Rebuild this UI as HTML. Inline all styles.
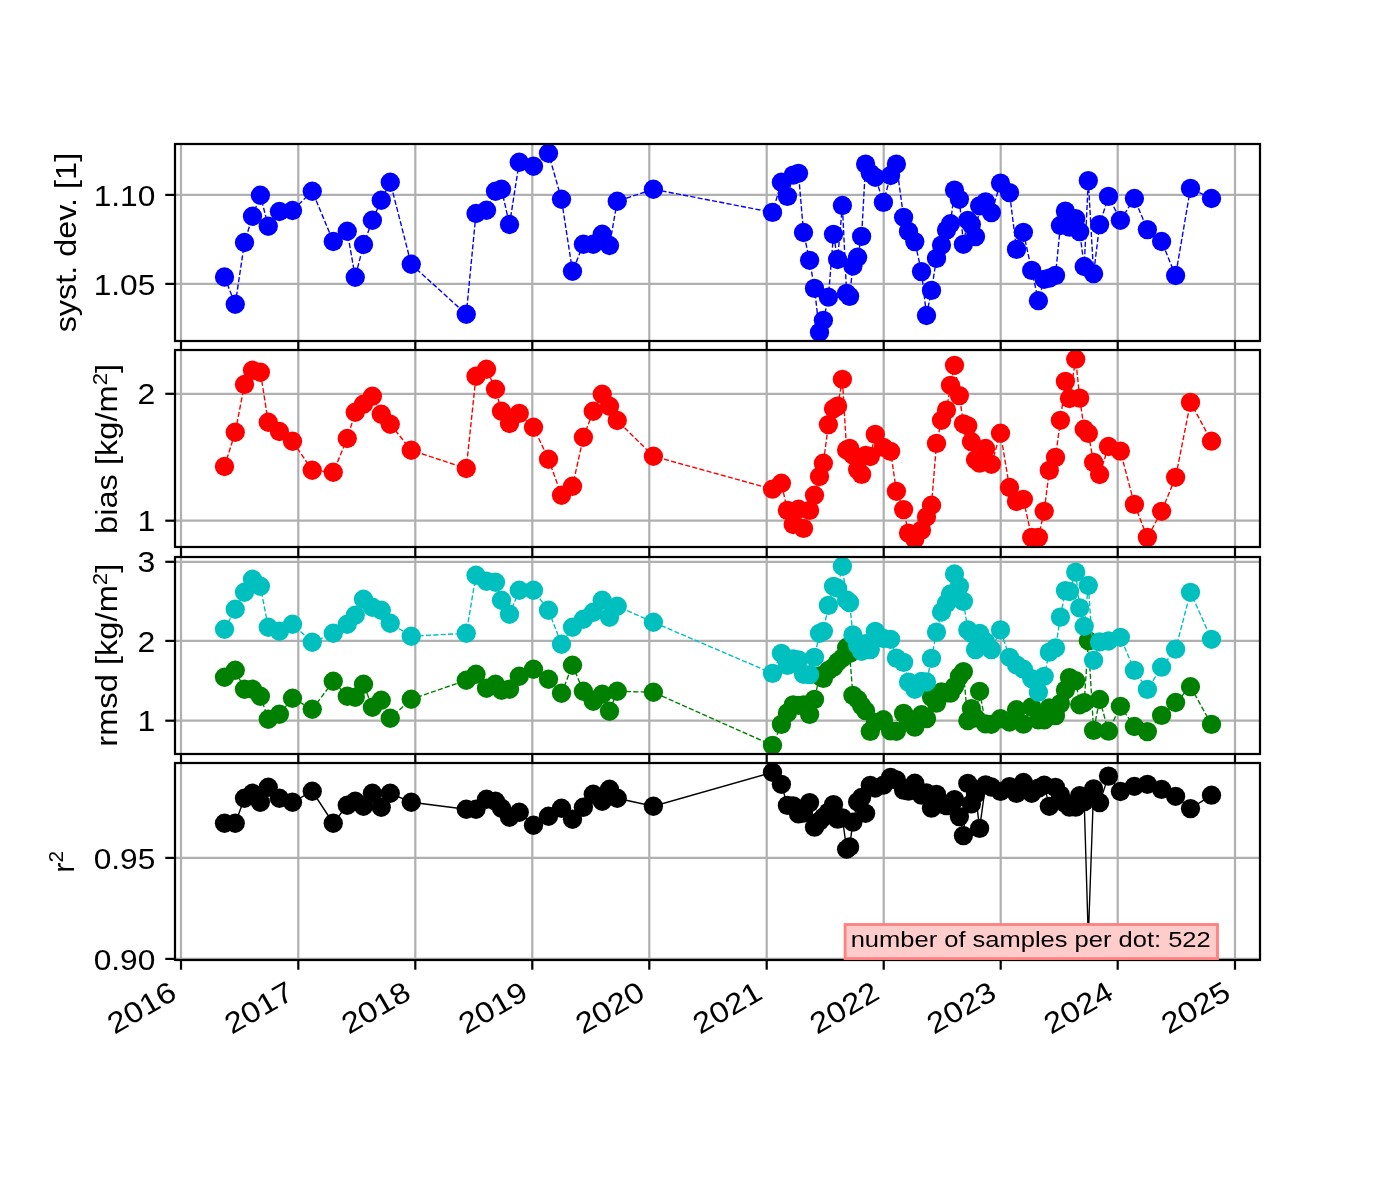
<!DOCTYPE html>
<html><head><meta charset="utf-8"><title>chart</title>
<style>html,body{margin:0;padding:0;background:#fff}svg{display:block;will-change:transform}text{font-family:"Liberation Sans",sans-serif;fill:#000}</style>
</head><body>
<svg width="1400" height="1200" viewBox="0 0 1400 1200">
<rect width="1400" height="1200" fill="#fff"/>
<defs>
<clipPath id="c0"><rect x="175" y="144" width="1085" height="197"/></clipPath>
<clipPath id="c1"><rect x="175" y="350" width="1085" height="197"/></clipPath>
<clipPath id="c2"><rect x="175" y="557" width="1085" height="197"/></clipPath>
<clipPath id="c3"><rect x="175" y="763" width="1085" height="197"/></clipPath>
</defs>
<g stroke="#b0b0b0" stroke-width="2.22" clip-path="url(#c0)"><line x1="181" y1="144" x2="181" y2="341"/><line x1="298.3" y1="144" x2="298.3" y2="341"/><line x1="415.3" y1="144" x2="415.3" y2="341"/><line x1="532.3" y1="144" x2="532.3" y2="341"/><line x1="649.3" y1="144" x2="649.3" y2="341"/><line x1="766.7" y1="144" x2="766.7" y2="341"/><line x1="883.7" y1="144" x2="883.7" y2="341"/><line x1="1000.7" y1="144" x2="1000.7" y2="341"/><line x1="1117.7" y1="144" x2="1117.7" y2="341"/><line x1="1235" y1="144" x2="1235" y2="341"/><line x1="175" y1="194.9" x2="1260" y2="194.9"/><line x1="175" y1="283.9" x2="1260" y2="283.9"/></g>
<g clip-path="url(#c0)">
<polyline points="224.5,277 235.25,304.25 244.5,242.5 252.5,216.25 260.4,195.25 268.25,226.25 279.4,211.5 292.5,210.5 312.25,191.25 333.25,241.5 347.25,231.25 355.25,277.25 363.5,244.5 372.4,220.25 381.25,200.25 390.25,182.25 411.25,264.25 466.25,314.25 476,213.5 486.5,210.25 495.5,191.25 501.5,189.25 509.5,224.5 519.25,162.25 533.5,166.25 548.5,153.25 561.5,199.25 572.5,271.25 583.4,244.25 593.25,244.25 602.25,234.25 609.5,245.5 617.25,201.25 653.4,189.25 772.5,212.4 781.4,182.2 787.4,196.4 793.2,175.1 798.5,173.3 803.5,232.5 809.6,260.3 814.5,288.4 819.5,332.3 823.4,320.3 828.4,297.2 833.5,234.3 837.6,259.5 842.4,205.5 846.6,293.3 849.6,296.4 852.9,266 857.6,257.2 861.6,236.4 865.6,164.1 870.3,173.3 875.3,177.3 883.4,202.4 890.6,175.5 896.4,164.1 903.6,217.3 908.5,231.4 914.8,241.6 921.5,271.6 926.5,315.5 931.5,290.4 936.5,258.4 941.5,245.1 946.5,230.1 950.5,223.7 954.5,190.1 959.4,199.3 963.4,244.3 967.8,220.3 971.4,224.6 975.5,236.6 979.6,205.8 985.6,201.9 991.4,212.6 1000.5,183.1 1009.5,192.6 1016.5,249.4 1023.4,232.3 1031.7,270.4 1038.4,300.7 1044.2,279.3 1049.3,278.1 1055.5,275.4 1060.4,225.5 1065.4,211.1 1069.5,227.2 1075.7,218.6 1079.7,231.6 1084.2,266.5 1088.3,180.6 1093.6,273.7 1099.6,224.6 1108.5,196.4 1120.4,220.3 1134.4,198.5 1147.4,229.6 1161.6,241.5 1175.6,275.5 1190.5,188.4 1211.5,198.5" fill="none" stroke="#0000ff" stroke-width="1.39" stroke-dasharray="5.14 2.22"/><g fill="#0000ff"><circle cx="224.5" cy="277" r="9.65"/><circle cx="235.25" cy="304.25" r="9.65"/><circle cx="244.5" cy="242.5" r="9.65"/><circle cx="252.5" cy="216.25" r="9.65"/><circle cx="260.4" cy="195.25" r="9.65"/><circle cx="268.25" cy="226.25" r="9.65"/><circle cx="279.4" cy="211.5" r="9.65"/><circle cx="292.5" cy="210.5" r="9.65"/><circle cx="312.25" cy="191.25" r="9.65"/><circle cx="333.25" cy="241.5" r="9.65"/><circle cx="347.25" cy="231.25" r="9.65"/><circle cx="355.25" cy="277.25" r="9.65"/><circle cx="363.5" cy="244.5" r="9.65"/><circle cx="372.4" cy="220.25" r="9.65"/><circle cx="381.25" cy="200.25" r="9.65"/><circle cx="390.25" cy="182.25" r="9.65"/><circle cx="411.25" cy="264.25" r="9.65"/><circle cx="466.25" cy="314.25" r="9.65"/><circle cx="476" cy="213.5" r="9.65"/><circle cx="486.5" cy="210.25" r="9.65"/><circle cx="495.5" cy="191.25" r="9.65"/><circle cx="501.5" cy="189.25" r="9.65"/><circle cx="509.5" cy="224.5" r="9.65"/><circle cx="519.25" cy="162.25" r="9.65"/><circle cx="533.5" cy="166.25" r="9.65"/><circle cx="548.5" cy="153.25" r="9.65"/><circle cx="561.5" cy="199.25" r="9.65"/><circle cx="572.5" cy="271.25" r="9.65"/><circle cx="583.4" cy="244.25" r="9.65"/><circle cx="593.25" cy="244.25" r="9.65"/><circle cx="602.25" cy="234.25" r="9.65"/><circle cx="609.5" cy="245.5" r="9.65"/><circle cx="617.25" cy="201.25" r="9.65"/><circle cx="653.4" cy="189.25" r="9.65"/><circle cx="772.5" cy="212.4" r="9.65"/><circle cx="781.4" cy="182.2" r="9.65"/><circle cx="787.4" cy="196.4" r="9.65"/><circle cx="793.2" cy="175.1" r="9.65"/><circle cx="798.5" cy="173.3" r="9.65"/><circle cx="803.5" cy="232.5" r="9.65"/><circle cx="809.6" cy="260.3" r="9.65"/><circle cx="814.5" cy="288.4" r="9.65"/><circle cx="819.5" cy="332.3" r="9.65"/><circle cx="823.4" cy="320.3" r="9.65"/><circle cx="828.4" cy="297.2" r="9.65"/><circle cx="833.5" cy="234.3" r="9.65"/><circle cx="837.6" cy="259.5" r="9.65"/><circle cx="842.4" cy="205.5" r="9.65"/><circle cx="846.6" cy="293.3" r="9.65"/><circle cx="849.6" cy="296.4" r="9.65"/><circle cx="852.9" cy="266" r="9.65"/><circle cx="857.6" cy="257.2" r="9.65"/><circle cx="861.6" cy="236.4" r="9.65"/><circle cx="865.6" cy="164.1" r="9.65"/><circle cx="870.3" cy="173.3" r="9.65"/><circle cx="875.3" cy="177.3" r="9.65"/><circle cx="883.4" cy="202.4" r="9.65"/><circle cx="890.6" cy="175.5" r="9.65"/><circle cx="896.4" cy="164.1" r="9.65"/><circle cx="903.6" cy="217.3" r="9.65"/><circle cx="908.5" cy="231.4" r="9.65"/><circle cx="914.8" cy="241.6" r="9.65"/><circle cx="921.5" cy="271.6" r="9.65"/><circle cx="926.5" cy="315.5" r="9.65"/><circle cx="931.5" cy="290.4" r="9.65"/><circle cx="936.5" cy="258.4" r="9.65"/><circle cx="941.5" cy="245.1" r="9.65"/><circle cx="946.5" cy="230.1" r="9.65"/><circle cx="950.5" cy="223.7" r="9.65"/><circle cx="954.5" cy="190.1" r="9.65"/><circle cx="959.4" cy="199.3" r="9.65"/><circle cx="963.4" cy="244.3" r="9.65"/><circle cx="967.8" cy="220.3" r="9.65"/><circle cx="971.4" cy="224.6" r="9.65"/><circle cx="975.5" cy="236.6" r="9.65"/><circle cx="979.6" cy="205.8" r="9.65"/><circle cx="985.6" cy="201.9" r="9.65"/><circle cx="991.4" cy="212.6" r="9.65"/><circle cx="1000.5" cy="183.1" r="9.65"/><circle cx="1009.5" cy="192.6" r="9.65"/><circle cx="1016.5" cy="249.4" r="9.65"/><circle cx="1023.4" cy="232.3" r="9.65"/><circle cx="1031.7" cy="270.4" r="9.65"/><circle cx="1038.4" cy="300.7" r="9.65"/><circle cx="1044.2" cy="279.3" r="9.65"/><circle cx="1049.3" cy="278.1" r="9.65"/><circle cx="1055.5" cy="275.4" r="9.65"/><circle cx="1060.4" cy="225.5" r="9.65"/><circle cx="1065.4" cy="211.1" r="9.65"/><circle cx="1069.5" cy="227.2" r="9.65"/><circle cx="1075.7" cy="218.6" r="9.65"/><circle cx="1079.7" cy="231.6" r="9.65"/><circle cx="1084.2" cy="266.5" r="9.65"/><circle cx="1088.3" cy="180.6" r="9.65"/><circle cx="1093.6" cy="273.7" r="9.65"/><circle cx="1099.6" cy="224.6" r="9.65"/><circle cx="1108.5" cy="196.4" r="9.65"/><circle cx="1120.4" cy="220.3" r="9.65"/><circle cx="1134.4" cy="198.5" r="9.65"/><circle cx="1147.4" cy="229.6" r="9.65"/><circle cx="1161.6" cy="241.5" r="9.65"/><circle cx="1175.6" cy="275.5" r="9.65"/><circle cx="1190.5" cy="188.4" r="9.65"/><circle cx="1211.5" cy="198.5" r="9.65"/></g>
</g>
<g stroke="#000" stroke-width="2.22"><line x1="181" y1="341" x2="181" y2="350.7"/><line x1="298.3" y1="341" x2="298.3" y2="350.7"/><line x1="415.3" y1="341" x2="415.3" y2="350.7"/><line x1="532.3" y1="341" x2="532.3" y2="350.7"/><line x1="649.3" y1="341" x2="649.3" y2="350.7"/><line x1="766.7" y1="341" x2="766.7" y2="350.7"/><line x1="883.7" y1="341" x2="883.7" y2="350.7"/><line x1="1000.7" y1="341" x2="1000.7" y2="350.7"/><line x1="1117.7" y1="341" x2="1117.7" y2="350.7"/><line x1="1235" y1="341" x2="1235" y2="350.7"/><line x1="165.3" y1="194.9" x2="175" y2="194.9"/><line x1="165.3" y1="283.9" x2="175" y2="283.9"/></g>
<rect x="175" y="144" width="1085" height="197" fill="none" stroke="#000" stroke-width="2.22"/>
<g stroke="#b0b0b0" stroke-width="2.22" clip-path="url(#c1)"><line x1="181" y1="350" x2="181" y2="547"/><line x1="298.3" y1="350" x2="298.3" y2="547"/><line x1="415.3" y1="350" x2="415.3" y2="547"/><line x1="532.3" y1="350" x2="532.3" y2="547"/><line x1="649.3" y1="350" x2="649.3" y2="547"/><line x1="766.7" y1="350" x2="766.7" y2="547"/><line x1="883.7" y1="350" x2="883.7" y2="547"/><line x1="1000.7" y1="350" x2="1000.7" y2="547"/><line x1="1117.7" y1="350" x2="1117.7" y2="547"/><line x1="1235" y1="350" x2="1235" y2="547"/><line x1="175" y1="393.8" x2="1260" y2="393.8"/><line x1="175" y1="520.7" x2="1260" y2="520.7"/></g>
<g clip-path="url(#c1)">
<polyline points="224.5,466.5 235.25,432.25 244.5,384.5 252.5,370.25 260.4,372.25 268.25,422.25 279.4,431.5 292.5,441.25 312.25,470.25 333.25,472.25 347.25,438.5 355.25,412.25 363.5,404.25 372.4,396.25 381.25,414.25 390.25,424.25 411.25,450.25 466.25,468.5 476,376.25 486.5,369.25 495.5,389.25 501.5,411.25 509.5,423.5 519.25,413.4 533.5,427.25 548.5,459.25 561.5,495.25 572.5,486.25 583.4,437.25 593.25,411.25 602.25,394.25 609.5,406.25 617.25,420.5 653.4,456.25 772.5,489.2 781.4,483.2 787.4,510.4 793.2,524.5 798.5,509.2 803.5,528.4 809.6,510.4 814.5,495.2 819.5,476.5 823.4,463.2 828.4,424.6 833.5,408.8 837.6,406.1 842.4,379.3 846.6,450 849.6,448.4 852.9,454.9 857.6,469.6 861.6,474.4 865.6,455.5 870.3,456.5 875.3,434.4 883.4,447.3 890.6,451.4 896.4,491.3 903.6,509.6 908.5,533.1 914.8,539.1 921.5,530.1 926.5,516.9 931.5,505.2 936.5,443.4 941.5,420.3 946.5,410.1 950.5,385.3 954.5,365.3 959.4,395.6 963.4,423.8 967.8,425.8 971.4,441.7 975.5,459.7 979.6,463.1 985.6,448.5 991.4,464.3 1000.5,433.2 1009.5,487.5 1016.5,501.5 1023.4,499.3 1031.7,537.4 1038.4,537.4 1044.2,511.3 1049.3,470.4 1055.5,457.4 1060.4,420.3 1065.4,381.4 1069.5,398.5 1075.7,359.2 1079.7,398.1 1084.2,429.2 1088.3,433.4 1093.6,462.4 1099.6,474.5 1108.5,446.5 1120.4,451.1 1134.4,504.4 1147.4,537.4 1161.6,511.3 1175.6,477.3 1190.5,402.4 1211.5,441.2" fill="none" stroke="#ff0000" stroke-width="1.39" stroke-dasharray="5.14 2.22"/><g fill="#ff0000"><circle cx="224.5" cy="466.5" r="9.65"/><circle cx="235.25" cy="432.25" r="9.65"/><circle cx="244.5" cy="384.5" r="9.65"/><circle cx="252.5" cy="370.25" r="9.65"/><circle cx="260.4" cy="372.25" r="9.65"/><circle cx="268.25" cy="422.25" r="9.65"/><circle cx="279.4" cy="431.5" r="9.65"/><circle cx="292.5" cy="441.25" r="9.65"/><circle cx="312.25" cy="470.25" r="9.65"/><circle cx="333.25" cy="472.25" r="9.65"/><circle cx="347.25" cy="438.5" r="9.65"/><circle cx="355.25" cy="412.25" r="9.65"/><circle cx="363.5" cy="404.25" r="9.65"/><circle cx="372.4" cy="396.25" r="9.65"/><circle cx="381.25" cy="414.25" r="9.65"/><circle cx="390.25" cy="424.25" r="9.65"/><circle cx="411.25" cy="450.25" r="9.65"/><circle cx="466.25" cy="468.5" r="9.65"/><circle cx="476" cy="376.25" r="9.65"/><circle cx="486.5" cy="369.25" r="9.65"/><circle cx="495.5" cy="389.25" r="9.65"/><circle cx="501.5" cy="411.25" r="9.65"/><circle cx="509.5" cy="423.5" r="9.65"/><circle cx="519.25" cy="413.4" r="9.65"/><circle cx="533.5" cy="427.25" r="9.65"/><circle cx="548.5" cy="459.25" r="9.65"/><circle cx="561.5" cy="495.25" r="9.65"/><circle cx="572.5" cy="486.25" r="9.65"/><circle cx="583.4" cy="437.25" r="9.65"/><circle cx="593.25" cy="411.25" r="9.65"/><circle cx="602.25" cy="394.25" r="9.65"/><circle cx="609.5" cy="406.25" r="9.65"/><circle cx="617.25" cy="420.5" r="9.65"/><circle cx="653.4" cy="456.25" r="9.65"/><circle cx="772.5" cy="489.2" r="9.65"/><circle cx="781.4" cy="483.2" r="9.65"/><circle cx="787.4" cy="510.4" r="9.65"/><circle cx="793.2" cy="524.5" r="9.65"/><circle cx="798.5" cy="509.2" r="9.65"/><circle cx="803.5" cy="528.4" r="9.65"/><circle cx="809.6" cy="510.4" r="9.65"/><circle cx="814.5" cy="495.2" r="9.65"/><circle cx="819.5" cy="476.5" r="9.65"/><circle cx="823.4" cy="463.2" r="9.65"/><circle cx="828.4" cy="424.6" r="9.65"/><circle cx="833.5" cy="408.8" r="9.65"/><circle cx="837.6" cy="406.1" r="9.65"/><circle cx="842.4" cy="379.3" r="9.65"/><circle cx="846.6" cy="450" r="9.65"/><circle cx="849.6" cy="448.4" r="9.65"/><circle cx="852.9" cy="454.9" r="9.65"/><circle cx="857.6" cy="469.6" r="9.65"/><circle cx="861.6" cy="474.4" r="9.65"/><circle cx="865.6" cy="455.5" r="9.65"/><circle cx="870.3" cy="456.5" r="9.65"/><circle cx="875.3" cy="434.4" r="9.65"/><circle cx="883.4" cy="447.3" r="9.65"/><circle cx="890.6" cy="451.4" r="9.65"/><circle cx="896.4" cy="491.3" r="9.65"/><circle cx="903.6" cy="509.6" r="9.65"/><circle cx="908.5" cy="533.1" r="9.65"/><circle cx="914.8" cy="539.1" r="9.65"/><circle cx="921.5" cy="530.1" r="9.65"/><circle cx="926.5" cy="516.9" r="9.65"/><circle cx="931.5" cy="505.2" r="9.65"/><circle cx="936.5" cy="443.4" r="9.65"/><circle cx="941.5" cy="420.3" r="9.65"/><circle cx="946.5" cy="410.1" r="9.65"/><circle cx="950.5" cy="385.3" r="9.65"/><circle cx="954.5" cy="365.3" r="9.65"/><circle cx="959.4" cy="395.6" r="9.65"/><circle cx="963.4" cy="423.8" r="9.65"/><circle cx="967.8" cy="425.8" r="9.65"/><circle cx="971.4" cy="441.7" r="9.65"/><circle cx="975.5" cy="459.7" r="9.65"/><circle cx="979.6" cy="463.1" r="9.65"/><circle cx="985.6" cy="448.5" r="9.65"/><circle cx="991.4" cy="464.3" r="9.65"/><circle cx="1000.5" cy="433.2" r="9.65"/><circle cx="1009.5" cy="487.5" r="9.65"/><circle cx="1016.5" cy="501.5" r="9.65"/><circle cx="1023.4" cy="499.3" r="9.65"/><circle cx="1031.7" cy="537.4" r="9.65"/><circle cx="1038.4" cy="537.4" r="9.65"/><circle cx="1044.2" cy="511.3" r="9.65"/><circle cx="1049.3" cy="470.4" r="9.65"/><circle cx="1055.5" cy="457.4" r="9.65"/><circle cx="1060.4" cy="420.3" r="9.65"/><circle cx="1065.4" cy="381.4" r="9.65"/><circle cx="1069.5" cy="398.5" r="9.65"/><circle cx="1075.7" cy="359.2" r="9.65"/><circle cx="1079.7" cy="398.1" r="9.65"/><circle cx="1084.2" cy="429.2" r="9.65"/><circle cx="1088.3" cy="433.4" r="9.65"/><circle cx="1093.6" cy="462.4" r="9.65"/><circle cx="1099.6" cy="474.5" r="9.65"/><circle cx="1108.5" cy="446.5" r="9.65"/><circle cx="1120.4" cy="451.1" r="9.65"/><circle cx="1134.4" cy="504.4" r="9.65"/><circle cx="1147.4" cy="537.4" r="9.65"/><circle cx="1161.6" cy="511.3" r="9.65"/><circle cx="1175.6" cy="477.3" r="9.65"/><circle cx="1190.5" cy="402.4" r="9.65"/><circle cx="1211.5" cy="441.2" r="9.65"/></g>
</g>
<g stroke="#000" stroke-width="2.22"><line x1="181" y1="547" x2="181" y2="556.7"/><line x1="298.3" y1="547" x2="298.3" y2="556.7"/><line x1="415.3" y1="547" x2="415.3" y2="556.7"/><line x1="532.3" y1="547" x2="532.3" y2="556.7"/><line x1="649.3" y1="547" x2="649.3" y2="556.7"/><line x1="766.7" y1="547" x2="766.7" y2="556.7"/><line x1="883.7" y1="547" x2="883.7" y2="556.7"/><line x1="1000.7" y1="547" x2="1000.7" y2="556.7"/><line x1="1117.7" y1="547" x2="1117.7" y2="556.7"/><line x1="1235" y1="547" x2="1235" y2="556.7"/><line x1="165.3" y1="393.8" x2="175" y2="393.8"/><line x1="165.3" y1="520.7" x2="175" y2="520.7"/></g>
<rect x="175" y="350" width="1085" height="197" fill="none" stroke="#000" stroke-width="2.22"/>
<g stroke="#b0b0b0" stroke-width="2.22" clip-path="url(#c2)"><line x1="181" y1="557" x2="181" y2="754"/><line x1="298.3" y1="557" x2="298.3" y2="754"/><line x1="415.3" y1="557" x2="415.3" y2="754"/><line x1="532.3" y1="557" x2="532.3" y2="754"/><line x1="649.3" y1="557" x2="649.3" y2="754"/><line x1="766.7" y1="557" x2="766.7" y2="754"/><line x1="883.7" y1="557" x2="883.7" y2="754"/><line x1="1000.7" y1="557" x2="1000.7" y2="754"/><line x1="1117.7" y1="557" x2="1117.7" y2="754"/><line x1="1235" y1="557" x2="1235" y2="754"/><line x1="175" y1="561.8" x2="1260" y2="561.8"/><line x1="175" y1="640.9" x2="1260" y2="640.9"/><line x1="175" y1="720.7" x2="1260" y2="720.7"/></g>
<g clip-path="url(#c2)">
<polyline points="224.5,677.25 235.25,670.25 244.5,689.25 252.5,689.25 260.4,696.25 268.25,719.25 279.4,714.25 292.5,698.25 312.25,709.25 333.25,681.25 347.25,696.25 355.25,697.25 363.5,684.25 372.4,707.25 381.25,700.25 390.25,718.25 411.25,699.25 466.25,680.25 476,674.25 486.5,688.25 495.5,684.25 501.5,690.25 509.5,689.25 519.25,676.25 533.5,669.25 548.5,679.25 561.5,693.25 572.5,665.25 583.4,691.25 593.25,701.25 602.25,694.25 609.5,711.25 617.25,691.25 653.4,692.25 772.5,745.3 781.4,724.4 787.4,713 793.2,704.8 798.5,705.3 803.5,705 809.6,714.4 814.5,699.4 819.5,676 823.4,678.4 828.4,670.5 833.5,667.3 837.6,662 842.4,658 846.6,647.5 849.6,653.5 852.9,695.4 857.6,699.3 861.6,705.7 865.6,710.7 870.3,731.4 875.3,722.5 883.4,719.7 890.6,730.9 896.4,731.3 903.6,713.4 908.5,720 914.8,727.1 921.5,714.7 926.5,718.6 931.5,697.1 936.5,703.1 941.5,691.9 946.5,692.9 950.5,693.1 954.5,686.5 959.4,676.4 963.4,671.6 967.8,720.7 971.4,708.6 975.5,717.9 979.6,691.3 985.6,723.9 991.4,724.3 1000.5,718.6 1009.5,722 1016.5,709.7 1023.4,724.2 1031.7,706.9 1038.4,719.9 1044.2,719.9 1049.3,707.9 1055.5,715.6 1060.4,703.6 1065.4,690 1069.5,677.6 1075.7,680.7 1079.7,704.8 1084.2,702.6 1088.3,640.8 1093.6,730.4 1099.6,699.5 1108.5,731.2 1120.4,706.3 1134.4,726.5 1147.4,731.6 1161.6,715.4 1175.6,702.5 1190.5,686.7 1211.5,724.4" fill="none" stroke="#008000" stroke-width="1.39" stroke-dasharray="5.14 2.22"/><g fill="#008000"><circle cx="224.5" cy="677.25" r="9.65"/><circle cx="235.25" cy="670.25" r="9.65"/><circle cx="244.5" cy="689.25" r="9.65"/><circle cx="252.5" cy="689.25" r="9.65"/><circle cx="260.4" cy="696.25" r="9.65"/><circle cx="268.25" cy="719.25" r="9.65"/><circle cx="279.4" cy="714.25" r="9.65"/><circle cx="292.5" cy="698.25" r="9.65"/><circle cx="312.25" cy="709.25" r="9.65"/><circle cx="333.25" cy="681.25" r="9.65"/><circle cx="347.25" cy="696.25" r="9.65"/><circle cx="355.25" cy="697.25" r="9.65"/><circle cx="363.5" cy="684.25" r="9.65"/><circle cx="372.4" cy="707.25" r="9.65"/><circle cx="381.25" cy="700.25" r="9.65"/><circle cx="390.25" cy="718.25" r="9.65"/><circle cx="411.25" cy="699.25" r="9.65"/><circle cx="466.25" cy="680.25" r="9.65"/><circle cx="476" cy="674.25" r="9.65"/><circle cx="486.5" cy="688.25" r="9.65"/><circle cx="495.5" cy="684.25" r="9.65"/><circle cx="501.5" cy="690.25" r="9.65"/><circle cx="509.5" cy="689.25" r="9.65"/><circle cx="519.25" cy="676.25" r="9.65"/><circle cx="533.5" cy="669.25" r="9.65"/><circle cx="548.5" cy="679.25" r="9.65"/><circle cx="561.5" cy="693.25" r="9.65"/><circle cx="572.5" cy="665.25" r="9.65"/><circle cx="583.4" cy="691.25" r="9.65"/><circle cx="593.25" cy="701.25" r="9.65"/><circle cx="602.25" cy="694.25" r="9.65"/><circle cx="609.5" cy="711.25" r="9.65"/><circle cx="617.25" cy="691.25" r="9.65"/><circle cx="653.4" cy="692.25" r="9.65"/><circle cx="772.5" cy="745.3" r="9.65"/><circle cx="781.4" cy="724.4" r="9.65"/><circle cx="787.4" cy="713" r="9.65"/><circle cx="793.2" cy="704.8" r="9.65"/><circle cx="798.5" cy="705.3" r="9.65"/><circle cx="803.5" cy="705" r="9.65"/><circle cx="809.6" cy="714.4" r="9.65"/><circle cx="814.5" cy="699.4" r="9.65"/><circle cx="819.5" cy="676" r="9.65"/><circle cx="823.4" cy="678.4" r="9.65"/><circle cx="828.4" cy="670.5" r="9.65"/><circle cx="833.5" cy="667.3" r="9.65"/><circle cx="837.6" cy="662" r="9.65"/><circle cx="842.4" cy="658" r="9.65"/><circle cx="846.6" cy="647.5" r="9.65"/><circle cx="849.6" cy="653.5" r="9.65"/><circle cx="852.9" cy="695.4" r="9.65"/><circle cx="857.6" cy="699.3" r="9.65"/><circle cx="861.6" cy="705.7" r="9.65"/><circle cx="865.6" cy="710.7" r="9.65"/><circle cx="870.3" cy="731.4" r="9.65"/><circle cx="875.3" cy="722.5" r="9.65"/><circle cx="883.4" cy="719.7" r="9.65"/><circle cx="890.6" cy="730.9" r="9.65"/><circle cx="896.4" cy="731.3" r="9.65"/><circle cx="903.6" cy="713.4" r="9.65"/><circle cx="908.5" cy="720" r="9.65"/><circle cx="914.8" cy="727.1" r="9.65"/><circle cx="921.5" cy="714.7" r="9.65"/><circle cx="926.5" cy="718.6" r="9.65"/><circle cx="931.5" cy="697.1" r="9.65"/><circle cx="936.5" cy="703.1" r="9.65"/><circle cx="941.5" cy="691.9" r="9.65"/><circle cx="946.5" cy="692.9" r="9.65"/><circle cx="950.5" cy="693.1" r="9.65"/><circle cx="954.5" cy="686.5" r="9.65"/><circle cx="959.4" cy="676.4" r="9.65"/><circle cx="963.4" cy="671.6" r="9.65"/><circle cx="967.8" cy="720.7" r="9.65"/><circle cx="971.4" cy="708.6" r="9.65"/><circle cx="975.5" cy="717.9" r="9.65"/><circle cx="979.6" cy="691.3" r="9.65"/><circle cx="985.6" cy="723.9" r="9.65"/><circle cx="991.4" cy="724.3" r="9.65"/><circle cx="1000.5" cy="718.6" r="9.65"/><circle cx="1009.5" cy="722" r="9.65"/><circle cx="1016.5" cy="709.7" r="9.65"/><circle cx="1023.4" cy="724.2" r="9.65"/><circle cx="1031.7" cy="706.9" r="9.65"/><circle cx="1038.4" cy="719.9" r="9.65"/><circle cx="1044.2" cy="719.9" r="9.65"/><circle cx="1049.3" cy="707.9" r="9.65"/><circle cx="1055.5" cy="715.6" r="9.65"/><circle cx="1060.4" cy="703.6" r="9.65"/><circle cx="1065.4" cy="690" r="9.65"/><circle cx="1069.5" cy="677.6" r="9.65"/><circle cx="1075.7" cy="680.7" r="9.65"/><circle cx="1079.7" cy="704.8" r="9.65"/><circle cx="1084.2" cy="702.6" r="9.65"/><circle cx="1088.3" cy="640.8" r="9.65"/><circle cx="1093.6" cy="730.4" r="9.65"/><circle cx="1099.6" cy="699.5" r="9.65"/><circle cx="1108.5" cy="731.2" r="9.65"/><circle cx="1120.4" cy="706.3" r="9.65"/><circle cx="1134.4" cy="726.5" r="9.65"/><circle cx="1147.4" cy="731.6" r="9.65"/><circle cx="1161.6" cy="715.4" r="9.65"/><circle cx="1175.6" cy="702.5" r="9.65"/><circle cx="1190.5" cy="686.7" r="9.65"/><circle cx="1211.5" cy="724.4" r="9.65"/></g>
<polyline points="224.5,629.25 235.25,609.25 244.5,592.25 252.5,579.25 260.4,586.25 268.25,627.25 279.4,631.25 292.5,624.25 312.25,642.25 333.25,633.25 347.25,624.25 355.25,615.25 363.5,599.25 372.4,607.25 381.25,610.25 390.25,623.25 411.25,636.25 466.25,633.25 476,575.25 486.5,581.25 495.5,582.25 501.5,600.25 509.5,614.25 519.25,590.25 533.5,590.25 548.5,610.25 561.5,644.25 572.5,627.25 583.4,619.25 593.25,612.25 602.25,600.25 609.5,617.25 617.25,606.25 653.4,622.25 772.5,673.4 781.4,653.3 787.4,665.4 793.2,659 798.5,659.9 803.5,674.3 809.6,674.6 814.5,657.3 819.5,633.3 823.4,631.3 828.4,605.4 833.5,586.3 837.6,588.2 842.4,566.3 846.6,600 849.6,602.6 852.9,635 857.6,645.3 861.6,651.3 865.6,643.6 870.3,649.6 875.3,631.3 883.4,638.5 890.6,639.3 896.4,658.1 903.6,662.4 908.5,682.1 914.8,689.3 921.5,681.5 926.5,682 931.5,658.4 936.5,632.1 941.5,612 946.5,603.4 950.5,594 954.5,574 959.4,586.3 963.4,601.4 967.8,629.9 971.4,633.3 975.5,649.6 979.6,633.3 985.6,641.9 991.4,649.6 1000.5,629.9 1009.5,657.3 1016.5,664.9 1023.4,669.2 1031.7,678.6 1038.4,692.2 1044.2,676.3 1049.3,652.1 1055.5,647.9 1060.4,617.1 1065.4,590.6 1069.5,591.5 1075.7,572.1 1079.7,607.9 1084.2,626.3 1088.3,585.5 1093.6,660.3 1099.6,641.9 1108.5,641 1120.4,637.3 1134.4,670.4 1147.4,689.4 1161.6,667.2 1175.6,649.2 1190.5,592.3 1211.5,639.3" fill="none" stroke="#00bfbf" stroke-width="1.39" stroke-dasharray="5.14 2.22"/><g fill="#00bfbf"><circle cx="224.5" cy="629.25" r="9.65"/><circle cx="235.25" cy="609.25" r="9.65"/><circle cx="244.5" cy="592.25" r="9.65"/><circle cx="252.5" cy="579.25" r="9.65"/><circle cx="260.4" cy="586.25" r="9.65"/><circle cx="268.25" cy="627.25" r="9.65"/><circle cx="279.4" cy="631.25" r="9.65"/><circle cx="292.5" cy="624.25" r="9.65"/><circle cx="312.25" cy="642.25" r="9.65"/><circle cx="333.25" cy="633.25" r="9.65"/><circle cx="347.25" cy="624.25" r="9.65"/><circle cx="355.25" cy="615.25" r="9.65"/><circle cx="363.5" cy="599.25" r="9.65"/><circle cx="372.4" cy="607.25" r="9.65"/><circle cx="381.25" cy="610.25" r="9.65"/><circle cx="390.25" cy="623.25" r="9.65"/><circle cx="411.25" cy="636.25" r="9.65"/><circle cx="466.25" cy="633.25" r="9.65"/><circle cx="476" cy="575.25" r="9.65"/><circle cx="486.5" cy="581.25" r="9.65"/><circle cx="495.5" cy="582.25" r="9.65"/><circle cx="501.5" cy="600.25" r="9.65"/><circle cx="509.5" cy="614.25" r="9.65"/><circle cx="519.25" cy="590.25" r="9.65"/><circle cx="533.5" cy="590.25" r="9.65"/><circle cx="548.5" cy="610.25" r="9.65"/><circle cx="561.5" cy="644.25" r="9.65"/><circle cx="572.5" cy="627.25" r="9.65"/><circle cx="583.4" cy="619.25" r="9.65"/><circle cx="593.25" cy="612.25" r="9.65"/><circle cx="602.25" cy="600.25" r="9.65"/><circle cx="609.5" cy="617.25" r="9.65"/><circle cx="617.25" cy="606.25" r="9.65"/><circle cx="653.4" cy="622.25" r="9.65"/><circle cx="772.5" cy="673.4" r="9.65"/><circle cx="781.4" cy="653.3" r="9.65"/><circle cx="787.4" cy="665.4" r="9.65"/><circle cx="793.2" cy="659" r="9.65"/><circle cx="798.5" cy="659.9" r="9.65"/><circle cx="803.5" cy="674.3" r="9.65"/><circle cx="809.6" cy="674.6" r="9.65"/><circle cx="814.5" cy="657.3" r="9.65"/><circle cx="819.5" cy="633.3" r="9.65"/><circle cx="823.4" cy="631.3" r="9.65"/><circle cx="828.4" cy="605.4" r="9.65"/><circle cx="833.5" cy="586.3" r="9.65"/><circle cx="837.6" cy="588.2" r="9.65"/><circle cx="842.4" cy="566.3" r="9.65"/><circle cx="846.6" cy="600" r="9.65"/><circle cx="849.6" cy="602.6" r="9.65"/><circle cx="852.9" cy="635" r="9.65"/><circle cx="857.6" cy="645.3" r="9.65"/><circle cx="861.6" cy="651.3" r="9.65"/><circle cx="865.6" cy="643.6" r="9.65"/><circle cx="870.3" cy="649.6" r="9.65"/><circle cx="875.3" cy="631.3" r="9.65"/><circle cx="883.4" cy="638.5" r="9.65"/><circle cx="890.6" cy="639.3" r="9.65"/><circle cx="896.4" cy="658.1" r="9.65"/><circle cx="903.6" cy="662.4" r="9.65"/><circle cx="908.5" cy="682.1" r="9.65"/><circle cx="914.8" cy="689.3" r="9.65"/><circle cx="921.5" cy="681.5" r="9.65"/><circle cx="926.5" cy="682" r="9.65"/><circle cx="931.5" cy="658.4" r="9.65"/><circle cx="936.5" cy="632.1" r="9.65"/><circle cx="941.5" cy="612" r="9.65"/><circle cx="946.5" cy="603.4" r="9.65"/><circle cx="950.5" cy="594" r="9.65"/><circle cx="954.5" cy="574" r="9.65"/><circle cx="959.4" cy="586.3" r="9.65"/><circle cx="963.4" cy="601.4" r="9.65"/><circle cx="967.8" cy="629.9" r="9.65"/><circle cx="971.4" cy="633.3" r="9.65"/><circle cx="975.5" cy="649.6" r="9.65"/><circle cx="979.6" cy="633.3" r="9.65"/><circle cx="985.6" cy="641.9" r="9.65"/><circle cx="991.4" cy="649.6" r="9.65"/><circle cx="1000.5" cy="629.9" r="9.65"/><circle cx="1009.5" cy="657.3" r="9.65"/><circle cx="1016.5" cy="664.9" r="9.65"/><circle cx="1023.4" cy="669.2" r="9.65"/><circle cx="1031.7" cy="678.6" r="9.65"/><circle cx="1038.4" cy="692.2" r="9.65"/><circle cx="1044.2" cy="676.3" r="9.65"/><circle cx="1049.3" cy="652.1" r="9.65"/><circle cx="1055.5" cy="647.9" r="9.65"/><circle cx="1060.4" cy="617.1" r="9.65"/><circle cx="1065.4" cy="590.6" r="9.65"/><circle cx="1069.5" cy="591.5" r="9.65"/><circle cx="1075.7" cy="572.1" r="9.65"/><circle cx="1079.7" cy="607.9" r="9.65"/><circle cx="1084.2" cy="626.3" r="9.65"/><circle cx="1088.3" cy="585.5" r="9.65"/><circle cx="1093.6" cy="660.3" r="9.65"/><circle cx="1099.6" cy="641.9" r="9.65"/><circle cx="1108.5" cy="641" r="9.65"/><circle cx="1120.4" cy="637.3" r="9.65"/><circle cx="1134.4" cy="670.4" r="9.65"/><circle cx="1147.4" cy="689.4" r="9.65"/><circle cx="1161.6" cy="667.2" r="9.65"/><circle cx="1175.6" cy="649.2" r="9.65"/><circle cx="1190.5" cy="592.3" r="9.65"/><circle cx="1211.5" cy="639.3" r="9.65"/></g>
</g>
<g stroke="#000" stroke-width="2.22"><line x1="181" y1="754" x2="181" y2="763.7"/><line x1="298.3" y1="754" x2="298.3" y2="763.7"/><line x1="415.3" y1="754" x2="415.3" y2="763.7"/><line x1="532.3" y1="754" x2="532.3" y2="763.7"/><line x1="649.3" y1="754" x2="649.3" y2="763.7"/><line x1="766.7" y1="754" x2="766.7" y2="763.7"/><line x1="883.7" y1="754" x2="883.7" y2="763.7"/><line x1="1000.7" y1="754" x2="1000.7" y2="763.7"/><line x1="1117.7" y1="754" x2="1117.7" y2="763.7"/><line x1="1235" y1="754" x2="1235" y2="763.7"/><line x1="165.3" y1="561.8" x2="175" y2="561.8"/><line x1="165.3" y1="640.9" x2="175" y2="640.9"/><line x1="165.3" y1="720.7" x2="175" y2="720.7"/></g>
<rect x="175" y="557" width="1085" height="197" fill="none" stroke="#000" stroke-width="2.22"/>
<g stroke="#b0b0b0" stroke-width="2.22" clip-path="url(#c3)"><line x1="181" y1="763" x2="181" y2="960"/><line x1="298.3" y1="763" x2="298.3" y2="960"/><line x1="415.3" y1="763" x2="415.3" y2="960"/><line x1="532.3" y1="763" x2="532.3" y2="960"/><line x1="649.3" y1="763" x2="649.3" y2="960"/><line x1="766.7" y1="763" x2="766.7" y2="960"/><line x1="883.7" y1="763" x2="883.7" y2="960"/><line x1="1000.7" y1="763" x2="1000.7" y2="960"/><line x1="1117.7" y1="763" x2="1117.7" y2="960"/><line x1="1235" y1="763" x2="1235" y2="960"/><line x1="175" y1="857.9" x2="1260" y2="857.9"/><line x1="175" y1="958.9" x2="1260" y2="958.9"/></g>
<g clip-path="url(#c3)">
<polyline points="224.5,823.25 235.25,823.25 244.5,798.25 252.5,793.25 260.4,802.25 268.25,787.25 279.4,798.25 292.5,802.25 312.25,791.25 333.25,823.25 347.25,805.25 355.25,801.25 363.5,806.25 372.4,793.25 381.25,807.25 390.25,793.25 411.25,802.25 466.25,809.25 476,809.25 486.5,799.25 495.5,801.25 501.5,808.25 509.5,817.25 519.25,812.25 533.5,825.25 548.5,816.25 561.5,808.25 572.5,819.25 583.4,807.25 593.25,794.25 602.25,801.25 609.5,789.25 617.25,798.25 653.4,806.25 772.5,772.3 781.4,784.3 787.4,805.4 793.2,805.8 798.5,813.9 803.5,813.1 809.6,802.6 814.5,827.2 819.5,821.1 823.4,817.2 828.4,812.1 833.5,804.6 837.6,819.2 842.4,817.9 846.6,849.3 849.6,846.9 852.9,822.1 857.6,801.8 861.6,797.5 865.6,813.3 870.3,785.4 875.3,788 883.4,785.2 890.6,777.4 896.4,779.9 903.6,790.1 908.5,791.2 914.8,783.2 921.5,795.2 926.5,792.8 931.5,808.2 936.5,794.4 941.5,804.1 946.5,805.6 950.5,805.6 954.5,799.6 959.4,816.6 963.4,835.6 967.8,783.4 971.4,803.9 975.5,794.1 979.6,828.4 985.6,784.8 991.4,787 1000.5,791.4 1009.5,786.6 1016.5,793.4 1023.4,782.5 1031.7,793.3 1038.4,788.1 1044.2,785.2 1049.3,806.3 1055.5,787.4 1060.4,794.9 1065.4,803.5 1069.5,807.1 1075.7,807.1 1079.7,795.6 1084.2,801.6 1088.3,938 1093.6,788.9 1099.6,802.6 1108.5,776.1 1120.4,791.5 1134.4,786.3 1147.4,784.3 1161.6,789.4 1175.6,796.3 1190.5,808.6 1211.5,795.2" fill="none" stroke="#000000" stroke-width="1.39"/><g fill="#000000"><circle cx="224.5" cy="823.25" r="9.65"/><circle cx="235.25" cy="823.25" r="9.65"/><circle cx="244.5" cy="798.25" r="9.65"/><circle cx="252.5" cy="793.25" r="9.65"/><circle cx="260.4" cy="802.25" r="9.65"/><circle cx="268.25" cy="787.25" r="9.65"/><circle cx="279.4" cy="798.25" r="9.65"/><circle cx="292.5" cy="802.25" r="9.65"/><circle cx="312.25" cy="791.25" r="9.65"/><circle cx="333.25" cy="823.25" r="9.65"/><circle cx="347.25" cy="805.25" r="9.65"/><circle cx="355.25" cy="801.25" r="9.65"/><circle cx="363.5" cy="806.25" r="9.65"/><circle cx="372.4" cy="793.25" r="9.65"/><circle cx="381.25" cy="807.25" r="9.65"/><circle cx="390.25" cy="793.25" r="9.65"/><circle cx="411.25" cy="802.25" r="9.65"/><circle cx="466.25" cy="809.25" r="9.65"/><circle cx="476" cy="809.25" r="9.65"/><circle cx="486.5" cy="799.25" r="9.65"/><circle cx="495.5" cy="801.25" r="9.65"/><circle cx="501.5" cy="808.25" r="9.65"/><circle cx="509.5" cy="817.25" r="9.65"/><circle cx="519.25" cy="812.25" r="9.65"/><circle cx="533.5" cy="825.25" r="9.65"/><circle cx="548.5" cy="816.25" r="9.65"/><circle cx="561.5" cy="808.25" r="9.65"/><circle cx="572.5" cy="819.25" r="9.65"/><circle cx="583.4" cy="807.25" r="9.65"/><circle cx="593.25" cy="794.25" r="9.65"/><circle cx="602.25" cy="801.25" r="9.65"/><circle cx="609.5" cy="789.25" r="9.65"/><circle cx="617.25" cy="798.25" r="9.65"/><circle cx="653.4" cy="806.25" r="9.65"/><circle cx="772.5" cy="772.3" r="9.65"/><circle cx="781.4" cy="784.3" r="9.65"/><circle cx="787.4" cy="805.4" r="9.65"/><circle cx="793.2" cy="805.8" r="9.65"/><circle cx="798.5" cy="813.9" r="9.65"/><circle cx="803.5" cy="813.1" r="9.65"/><circle cx="809.6" cy="802.6" r="9.65"/><circle cx="814.5" cy="827.2" r="9.65"/><circle cx="819.5" cy="821.1" r="9.65"/><circle cx="823.4" cy="817.2" r="9.65"/><circle cx="828.4" cy="812.1" r="9.65"/><circle cx="833.5" cy="804.6" r="9.65"/><circle cx="837.6" cy="819.2" r="9.65"/><circle cx="842.4" cy="817.9" r="9.65"/><circle cx="846.6" cy="849.3" r="9.65"/><circle cx="849.6" cy="846.9" r="9.65"/><circle cx="852.9" cy="822.1" r="9.65"/><circle cx="857.6" cy="801.8" r="9.65"/><circle cx="861.6" cy="797.5" r="9.65"/><circle cx="865.6" cy="813.3" r="9.65"/><circle cx="870.3" cy="785.4" r="9.65"/><circle cx="875.3" cy="788" r="9.65"/><circle cx="883.4" cy="785.2" r="9.65"/><circle cx="890.6" cy="777.4" r="9.65"/><circle cx="896.4" cy="779.9" r="9.65"/><circle cx="903.6" cy="790.1" r="9.65"/><circle cx="908.5" cy="791.2" r="9.65"/><circle cx="914.8" cy="783.2" r="9.65"/><circle cx="921.5" cy="795.2" r="9.65"/><circle cx="926.5" cy="792.8" r="9.65"/><circle cx="931.5" cy="808.2" r="9.65"/><circle cx="936.5" cy="794.4" r="9.65"/><circle cx="941.5" cy="804.1" r="9.65"/><circle cx="946.5" cy="805.6" r="9.65"/><circle cx="950.5" cy="805.6" r="9.65"/><circle cx="954.5" cy="799.6" r="9.65"/><circle cx="959.4" cy="816.6" r="9.65"/><circle cx="963.4" cy="835.6" r="9.65"/><circle cx="967.8" cy="783.4" r="9.65"/><circle cx="971.4" cy="803.9" r="9.65"/><circle cx="975.5" cy="794.1" r="9.65"/><circle cx="979.6" cy="828.4" r="9.65"/><circle cx="985.6" cy="784.8" r="9.65"/><circle cx="991.4" cy="787" r="9.65"/><circle cx="1000.5" cy="791.4" r="9.65"/><circle cx="1009.5" cy="786.6" r="9.65"/><circle cx="1016.5" cy="793.4" r="9.65"/><circle cx="1023.4" cy="782.5" r="9.65"/><circle cx="1031.7" cy="793.3" r="9.65"/><circle cx="1038.4" cy="788.1" r="9.65"/><circle cx="1044.2" cy="785.2" r="9.65"/><circle cx="1049.3" cy="806.3" r="9.65"/><circle cx="1055.5" cy="787.4" r="9.65"/><circle cx="1060.4" cy="794.9" r="9.65"/><circle cx="1065.4" cy="803.5" r="9.65"/><circle cx="1069.5" cy="807.1" r="9.65"/><circle cx="1075.7" cy="807.1" r="9.65"/><circle cx="1079.7" cy="795.6" r="9.65"/><circle cx="1084.2" cy="801.6" r="9.65"/><circle cx="1088.3" cy="938" r="9.65"/><circle cx="1093.6" cy="788.9" r="9.65"/><circle cx="1099.6" cy="802.6" r="9.65"/><circle cx="1108.5" cy="776.1" r="9.65"/><circle cx="1120.4" cy="791.5" r="9.65"/><circle cx="1134.4" cy="786.3" r="9.65"/><circle cx="1147.4" cy="784.3" r="9.65"/><circle cx="1161.6" cy="789.4" r="9.65"/><circle cx="1175.6" cy="796.3" r="9.65"/><circle cx="1190.5" cy="808.6" r="9.65"/><circle cx="1211.5" cy="795.2" r="9.65"/></g>
</g>
<g stroke="#000" stroke-width="2.22"><line x1="181" y1="960" x2="181" y2="969.7"/><line x1="298.3" y1="960" x2="298.3" y2="969.7"/><line x1="415.3" y1="960" x2="415.3" y2="969.7"/><line x1="532.3" y1="960" x2="532.3" y2="969.7"/><line x1="649.3" y1="960" x2="649.3" y2="969.7"/><line x1="766.7" y1="960" x2="766.7" y2="969.7"/><line x1="883.7" y1="960" x2="883.7" y2="969.7"/><line x1="1000.7" y1="960" x2="1000.7" y2="969.7"/><line x1="1117.7" y1="960" x2="1117.7" y2="969.7"/><line x1="1235" y1="960" x2="1235" y2="969.7"/><line x1="165.3" y1="857.9" x2="175" y2="857.9"/><line x1="165.3" y1="958.9" x2="175" y2="958.9"/></g>
<rect x="175" y="763" width="1085" height="197" fill="none" stroke="#000" stroke-width="2.22"/>
<rect x="845.1" y="924.5" width="372.4" height="34.1" fill="#ffcccc" stroke="#ff8080" stroke-width="2.8"/>
<text x="850.7" y="946.5" font-size="22.6" textLength="360" lengthAdjust="spacingAndGlyphs">number of samples per dot: 522</text>
<text x="155.4" y="205.5" font-size="29.0" text-anchor="end" textLength="61.7" lengthAdjust="spacingAndGlyphs">1.10</text>
<text x="155.4" y="294.5" font-size="29.0" text-anchor="end" textLength="61.7" lengthAdjust="spacingAndGlyphs">1.05</text>
<text x="155.4" y="404.4" font-size="29.0" text-anchor="end" textLength="17.8" lengthAdjust="spacingAndGlyphs">2</text>
<text x="155.4" y="531.3" font-size="29.0" text-anchor="end" textLength="17.8" lengthAdjust="spacingAndGlyphs">1</text>
<text x="155.4" y="572.4" font-size="29.0" text-anchor="end" textLength="17.8" lengthAdjust="spacingAndGlyphs">3</text>
<text x="155.4" y="651.5" font-size="29.0" text-anchor="end" textLength="17.8" lengthAdjust="spacingAndGlyphs">2</text>
<text x="155.4" y="731.3" font-size="29.0" text-anchor="end" textLength="17.8" lengthAdjust="spacingAndGlyphs">1</text>
<text x="155.4" y="868.5" font-size="29.0" text-anchor="end" textLength="61.7" lengthAdjust="spacingAndGlyphs">0.95</text>
<text x="155.4" y="969.5" font-size="29.0" text-anchor="end" textLength="61.7" lengthAdjust="spacingAndGlyphs">0.90</text>
<text transform="translate(178.5,997.8) rotate(-30)" font-size="29.0" text-anchor="end" textLength="74" lengthAdjust="spacingAndGlyphs">2016</text>
<text transform="translate(295.8,997.8) rotate(-30)" font-size="29.0" text-anchor="end" textLength="74" lengthAdjust="spacingAndGlyphs">2017</text>
<text transform="translate(412.8,997.8) rotate(-30)" font-size="29.0" text-anchor="end" textLength="74" lengthAdjust="spacingAndGlyphs">2018</text>
<text transform="translate(529.8,997.8) rotate(-30)" font-size="29.0" text-anchor="end" textLength="74" lengthAdjust="spacingAndGlyphs">2019</text>
<text transform="translate(646.8,997.8) rotate(-30)" font-size="29.0" text-anchor="end" textLength="74" lengthAdjust="spacingAndGlyphs">2020</text>
<text transform="translate(764.2,997.8) rotate(-30)" font-size="29.0" text-anchor="end" textLength="74" lengthAdjust="spacingAndGlyphs">2021</text>
<text transform="translate(881.2,997.8) rotate(-30)" font-size="29.0" text-anchor="end" textLength="74" lengthAdjust="spacingAndGlyphs">2022</text>
<text transform="translate(998.2,997.8) rotate(-30)" font-size="29.0" text-anchor="end" textLength="74" lengthAdjust="spacingAndGlyphs">2023</text>
<text transform="translate(1115.2,997.8) rotate(-30)" font-size="29.0" text-anchor="end" textLength="74" lengthAdjust="spacingAndGlyphs">2024</text>
<text transform="translate(1232.5,997.8) rotate(-30)" font-size="29.0" text-anchor="end" textLength="74" lengthAdjust="spacingAndGlyphs">2025</text>
<text transform="translate(76.2,242.6) rotate(-90)" font-size="29.0" text-anchor="middle" textLength="179.5" lengthAdjust="spacingAndGlyphs">syst. dev. [1]</text>
<text transform="translate(117,448.9) rotate(-90)" font-size="29.0" text-anchor="middle" textLength="170" lengthAdjust="spacingAndGlyphs">bias [kg/m<tspan dy="-10.5" font-size="19.8">2</tspan><tspan dy="10.5">]</tspan></text>
<text transform="translate(117,655.2) rotate(-90)" font-size="29.0" text-anchor="middle" textLength="183.1" lengthAdjust="spacingAndGlyphs">rmsd [kg/m<tspan dy="-10.5" font-size="19.8">2</tspan><tspan dy="10.5">]</tspan></text>
<text transform="translate(73.8,861.9) rotate(-90)" font-size="29.0" text-anchor="middle" textLength="21.9" lengthAdjust="spacingAndGlyphs">r<tspan dy="-10.5" font-size="19.8">2</tspan></text>
</svg>
</body></html>
